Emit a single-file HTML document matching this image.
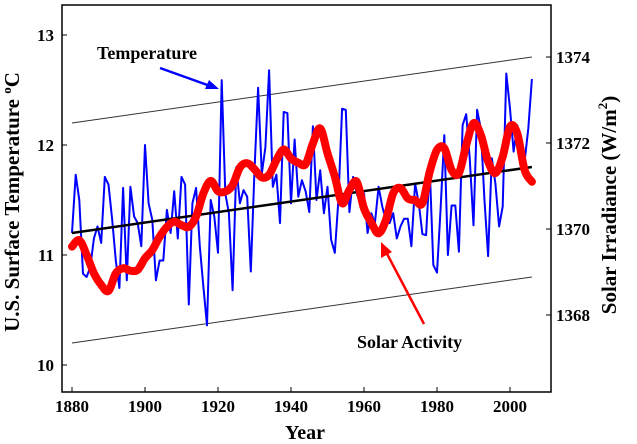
<!DOCTYPE html>
<html><head><meta charset="utf-8"><style>
html,body{margin:0;padding:0;background:#fff;}
svg{display:block;font-family:"Liberation Serif",serif;font-weight:bold;}
</style></head><body>
<svg id="chart" width="637" height="444" viewBox="0 0 637 444">
<rect x="0" y="0" width="637" height="444" fill="#fff"/>
<g id="grid"></g>
<g id="marks"></g>
<text x="19" y="202" transform="rotate(-90 19 202)" text-anchor="middle" font-size="21">U.S. Surface Temperature <tspan font-size="13" dy="-8">o</tspan><tspan dy="8">C</tspan></text>
<text x="616" y="205" transform="rotate(-90 616 205)" text-anchor="middle" font-size="21">Solar Irradiance (W/m<tspan font-size="13" dy="-9">2</tspan><tspan dy="9">)</tspan></text>
<text x="305" y="439" text-anchor="middle" font-size="20">Year</text>
<text x="97" y="59" font-size="18">Temperature</text>
<line x1="160" y1="68" x2="213" y2="87" stroke="#0000ff" stroke-width="2.5"/>
<polygon points="219,89 205,89 209,80" fill="#0000ff"/>
<text x="357" y="348" font-size="18">Solar Activity</text>
<line x1="424" y1="324" x2="385" y2="250" stroke="#ff0000" stroke-width="2.5"/>
<polygon points="381,242 381,258 392,252" fill="#ff0000"/>
</svg>
<script>
const years0 = 1880;
const tempValues = [11.20,11.73,11.50,10.83,10.80,10.89,11.15,11.26,11.11,11.71,11.64,11.32,10.95,10.70,11.61,10.77,11.62,11.35,11.29,11.08,12.00,11.47,11.32,10.77,10.95,10.95,11.41,11.20,11.58,11.15,11.71,11.64,
10.55,11.47,11.61,11.08,10.71,10.36,11.50,11.35,11.02,12.59,11.56,11.38,10.68,11.80,11.47,11.59,11.53,10.85,11.77,12.52,11.74,11.98,12.68,11.62,11.73,11.29,12.30,12.29,11.47,12.05,11.53,11.68,
11.58,11.39,12.17,11.50,11.77,11.38,11.62,11.14,11.02,11.50,12.33,12.32,11.39,11.71,11.56,11.47,11.56,11.20,11.38,11.29,11.62,11.44,11.32,11.29,11.38,11.15,11.26,11.33,11.33,11.08,11.65,11.47,
11.19,11.18,11.80,10.91,10.84,11.42,12.09,11.00,11.45,11.45,11.03,12.18,12.28,11.87,11.27,12.32,12.15,11.51,10.99,11.88,11.65,11.26,11.44,12.65,12.33,11.94,12.18,11.94,11.85,12.15,12.60];
const solarYears = [1880,1882,1884,1886,1888,1890,1892,1894,1896,1898,1900,1902,1904,1906,1908,1910,1912,1914,1916,1918,1920,1922,1924,1926,1928,1930,1932,1934,1936,1938,1940,1942,1944,1946,1948,1950,1952,1954,1956,1958,1960,1962,1964,1966,1968,1970,1972,1974,1976,1978,1980,1982,1984,1986,1988,1990,1992,1994,1996,1998,2000,2002,2004,2006];
const solarValues = [1369.59,1369.74,1369.40,1368.97,1368.70,1368.56,1368.97,1369.09,1369.03,1369.05,1369.32,1369.51,1369.82,1370.05,1370.17,1370.09,1370.05,1370.29,1370.83,1371.12,1370.88,1370.87,1371.02,1371.43,1371.53,1371.39,1371.20,1371.26,1371.60,1371.85,1371.64,1371.54,1371.51,1371.99,1372.34,1371.76,1371.22,1370.60,1370.91,1371.10,1370.48,1370.15,1369.90,1370.21,1370.83,1370.95,1370.71,1370.67,1370.60,1371.33,1371.84,1371.88,1371.37,1371.30,1371.95,1372.46,1372.19,1371.57,1371.30,1371.68,1372.38,1372.22,1371.37,1371.10];
const trendYears = [1880,2006];
const trendValues = [11.2,11.8];
const bandOffset = 1.0;
const xTicks = [1880,1900,1920,1940,1960,1980,2000];
const yTicksLeft = [10,11,12,13];
const yTicksRight = [1368,1370,1372,1374];

const NS = "http://www.w3.org/2000/svg";
const X = yr => 72 + (yr - 1880) * 3.65;
const YL = t => 145 - (t - 12) * 110;
const YR = s => 143 - (s - 1372) * 43;
const plot = {l:62,t:5,r:551,b:392};
function mk(tag, attrs, parent){const e=document.createElementNS(NS,tag);for(const k in attrs)e.setAttribute(k,attrs[k]);parent.appendChild(e);return e;}
const grid=document.getElementById('grid'), marks=document.getElementById('marks');

let fr=mk('rect',{x:plot.l,y:plot.t,width:plot.r-plot.l,height:plot.b-plot.t,fill:'none',stroke:'#000','stroke-width':1.5},grid);


xTicks.forEach(v=>{
  const x=X(v);
  let l=mk('line',{x1:x,x2:x,y1:plot.b,y2:plot.b-5,stroke:'#000','stroke-width':1},grid);
  
  
  let t=mk('text',{x:x,y:plot.b+20,'text-anchor':'middle','font-size':17},grid);t.textContent=v;
  
  
});
yTicksLeft.forEach(v=>{
  const y=YL(v);
  let l=mk('line',{x1:plot.l,x2:plot.l+5,y1:y,y2:y,stroke:'#000','stroke-width':1},grid);
  
  
  let t=mk('text',{x:plot.l-8,y:y+6,'text-anchor':'end','font-size':17},grid);t.textContent=v;
  
  
});
yTicksRight.forEach(v=>{
  const y=YR(v);
  let l=mk('line',{x1:plot.r-5,x2:plot.r,y1:y,y2:y,stroke:'#000','stroke-width':1},grid);
  
  
  let t=mk('text',{x:plot.r+5,y:y+6,'text-anchor':'start','font-size':17},grid);t.textContent=v;
  
  
});
[bandOffset,-bandOffset].forEach((o,i)=>{
  let l=mk('line',{x1:X(trendYears[0]),y1:YL(trendValues[0]+o),x2:X(trendYears[1]),y2:YL(trendValues[1]+o),stroke:'#333','stroke-width':1},marks);
  
  
});
let tp=tempValues.map((v,i)=>X(years0+i).toFixed(1)+','+YL(v).toFixed(1)).join(' ');
let tl=mk('polyline',{points:tp,fill:'none',stroke:'#0000ff','stroke-width':2,'stroke-linejoin':'round'},marks);


let tr=mk('line',{x1:X(trendYears[0]),y1:YL(trendValues[0]),x2:X(trendYears[1]),y2:YL(trendValues[1]),stroke:'#000','stroke-width':2.5},marks);


const P=solarYears.map((y,i)=>[X(y),YR(solarValues[i])]);
let d='M'+P[0][0]+','+P[0][1];
for(let i=0;i<P.length-1;i++){
  const p0=P[Math.max(i-1,0)],p1=P[i],p2=P[i+1],p3=P[Math.min(i+2,P.length-1)];
  const c1=[p1[0]+(p2[0]-p0[0])/6,p1[1]+(p2[1]-p0[1])/6];
  const c2=[p2[0]-(p3[0]-p1[0])/6,p2[1]-(p3[1]-p1[1])/6];
  d+=' C'+c1.join(',')+' '+c2.join(',')+' '+p2.join(',');
}
let sl=mk('path',{d:d,fill:'none',stroke:'#ff0000','stroke-width':8,'stroke-linejoin':'round','stroke-linecap':'round'},marks);


</script>
</body></html>
